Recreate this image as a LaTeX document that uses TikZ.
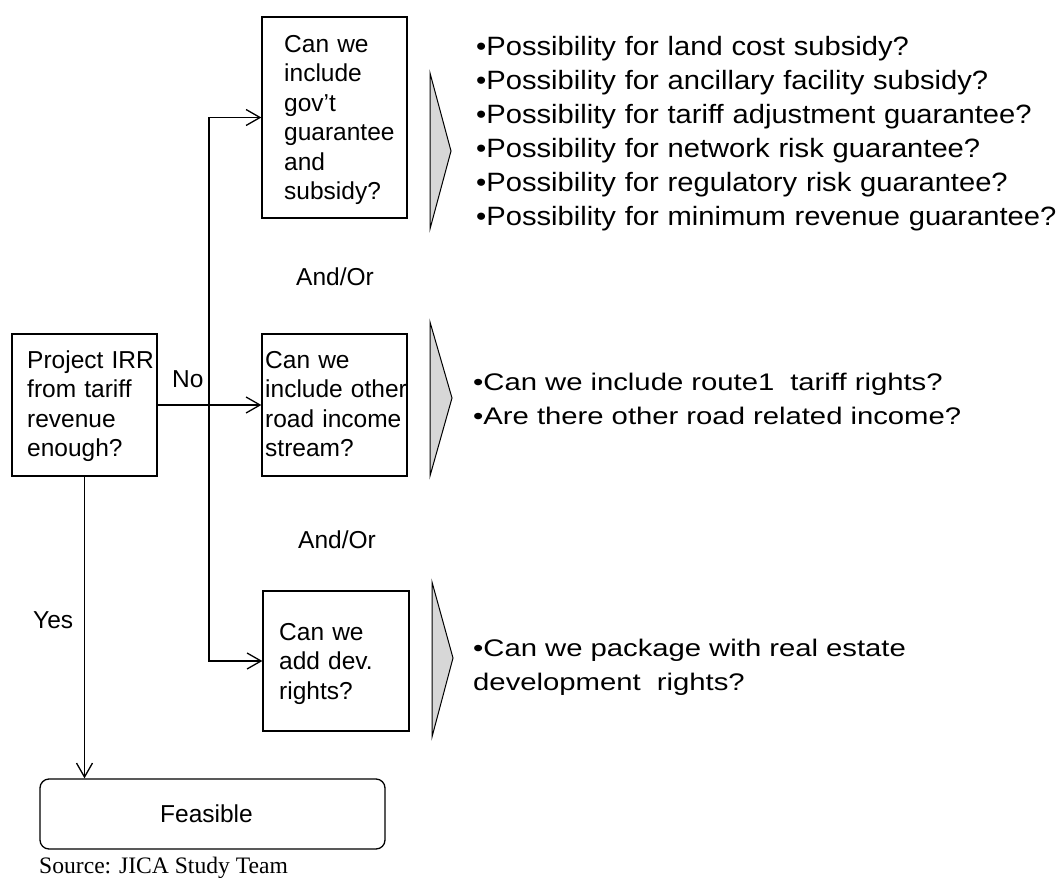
\documentclass[tikz,border=0pt]{standalone}
\usepackage{fontspec}
\setmainfont{Liberation Sans}
\newfontfamily\sourcefont{Liberation Serif}
\newfontfamily\listwide{Liberation Sans}[FakeStretch=1.10]
\newfontfamily\listwider{Liberation Sans}[FakeStretch=1.22]
\usetikzlibrary{arrows.meta,calc}
\definecolor{chevron}{RGB}{215,215,215}
\tikzset{
  qbox/.style={draw, line width=1.3pt, rectangle, inner sep=0pt},
  endbox/.style={draw, line width=1.3pt, rectangle, rounded corners=9pt, inner sep=0pt,
    font=\fontsize{24.5pt}{29.6pt}\selectfont},
  flow/.style={line width=1.3pt, -{Straight Barb[length=14pt,width=16pt,line width=1.3pt]}},
  chevronshape/.style={fill=chevron, draw, line width=1pt, line join=miter},
  boxtext/.style={anchor=base west, inner sep=0pt, text width=150pt, align=left,
    font=\fontsize{24.5pt}{29.6pt}\selectfont},
  lbl/.style={anchor=base west, inner sep=0pt, font=\fontsize{24.5pt}{29.6pt}\selectfont},
  listA/.style={anchor=base west, inner sep=0pt, text width=640pt, align=left,
    font=\listwide\fontsize{26.5pt}{34pt}\selectfont},
  listB/.style={anchor=base west, inner sep=0pt, text width=640pt, align=left,
    font=\listwider\fontsize{24pt}{34pt}\selectfont},
}
\begin{document}
\begin{tikzpicture}[x=1pt,y=-1pt]
\useasboundingbox[fill=white] (0,0) rectangle (1063,878);

% decision boxes
\node[qbox, minimum width=145pt, minimum height=142pt] (irr) at (84.5,405) {};
\node[qbox, minimum width=145pt, minimum height=201pt] (gov) at (334.5,117.5) {};
\node[qbox, minimum width=145pt, minimum height=142pt] (income) at (334.5,405) {};
\node[qbox, minimum width=146pt, minimum height=140pt] (dev) at (336,661) {};
\node[endbox, minimum width=345pt, minimum height=70pt] (feas) at (212.5,814) {\hspace*{-12pt}Feasible};

% box texts
\node[boxtext] (irrtxt) at (27,368) {Project IRR\\from tariff\\revenue\\enough?};
\node[boxtext] (govtxt) at (284,52) {Can we\\include\\gov’t\\guarantee\\and\\subsidy?};
\node[boxtext] (inctxt) at (265,368) {Can we\\include other\\road income\\stream?};
\node[boxtext] (devtxt) at (279,640) {Can we\\add dev.\\rights?};

% connectors
\coordinate (split) at (209,405);
\draw[flow] (irr.east) -- (income.west);
\draw[flow] (split) |- (gov.west);
\draw[flow] (split) |- (dev.west);
\draw[flow] (irr.south) -- (irr.south |- feas.north);

% connector labels
\node[lbl] (no) at (172,387) {No};
\node[lbl] (yes) at (33,628) {Yes};
\node[lbl] (andor1) at (296,285) {And/Or};
\node[lbl] (andor2) at (298,548) {And/Or};

% chevrons
\draw[chevronshape] (430,73) -- (451,151) -- (430,229) -- cycle;
\draw[chevronshape] (430,322) -- (452,398) -- (430,476) -- cycle;
\draw[chevronshape] (432,582) -- (453,658) -- (432,737) -- cycle;

% option lists
\node[listA] (govlist) at (476,55) {•Possibility for land cost subsidy?\\
•Possibility for ancillary facility subsidy?\\
•Possibility for tariff adjustment guarantee?\\
•Possibility for network risk guarantee?\\
•Possibility for regulatory risk guarantee?\\
•Possibility for minimum revenue guarantee?};
\node[listB] (inclist) at (473,390) {•Can we include route1 \ tariff rights?\\
•Are there other road related income?};
\node[listB] (devlist) at (473,656) {•Can we package with real estate\\
development\ \ rights?};

% source
\node[anchor=base west, inner sep=0pt, font=\sourcefont\fontsize{23.6pt}{28pt}\selectfont] (src) at (39,873) {Source: JICA Study Team};
\end{tikzpicture}
\end{document}
